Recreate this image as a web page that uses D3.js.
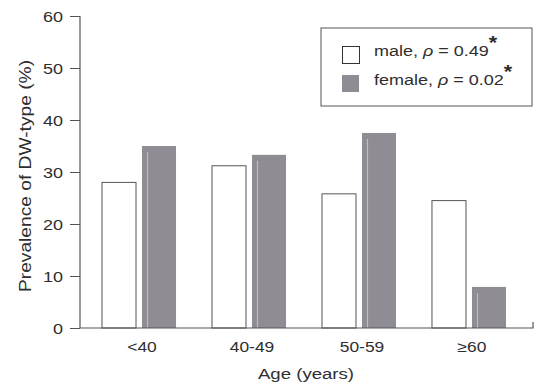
<!DOCTYPE html>
<html>
<head>
<meta charset="utf-8">
<script src="https://cdn.jsdelivr.net/npm/d3@7"></script>
<style>
  body { margin: 0; background: #fff; }
  text { font-family: "Liberation Sans", Arial, sans-serif; fill: #2e2e2e; }
</style>
</head>
<body>
<svg id="chart" width="539" height="383"></svg>
<script>
// Data
const ageGroups = ['<40', '40-49', '50-59', '≥60'];
const sexes = ['male', 'female'];
const maleValues = [28, 31.2, 25.8, 24.5];
const femaleValues = [35, 33.3, 37.5, 7.9];
const yTicks = [0, 10, 20, 30, 40, 50, 60];
const legendLabels = [
  { sex: 'male', text: 'male, ', p: '0.49' },
  { sex: 'female', text: 'female, ', p: '0.02' }
];

const rows = ageGroups.map((g, i) => ({ group: g, male: maleValues[i], female: femaleValues[i] }));

const svg = d3.select('#chart');
const axisColor = '#555';
const femaleFill = '#8f8c93';
const wide = 1.2; // the original type is set wider than Liberation Sans

// text placed at (x, y), stretched along its reading direction
function label (parent, x, y, str, size, anchor, rot) {
  const g = parent.append('g')
    .attr('transform', `translate(${x},${y})${rot ? ` rotate(${rot})` : ''} scale(${wide},1)`);
  return g.append('text')
    .attr('text-anchor', anchor || 'middle')
    .style('font-size', size + 'px')
    .text(str);
}

const y = d3.scaleLinear().domain([0, 60]).range([328, 16]);
const x0 = d3.scaleBand().domain(ageGroups).range([102, 506]).paddingInner(0.327).paddingOuter(0);
const x1 = d3.scaleBand().domain(sexes).range([0, x0.bandwidth()]).paddingInner(0.15);

// Bars
const groups = svg.append('g').selectAll('g').data(rows).enter().append('g')
  .attr('transform', d => `translate(${x0(d.group)},0)`);

groups.selectAll('rect').data(d => sexes.map(s => ({ sex: s, value: d[s] })))
  .enter().append('rect')
  .attr('x', d => x1(d.sex))
  .attr('y', d => y(d.value))
  .attr('width', x1.bandwidth())
  .attr('height', d => y(0) - y(d.value))
  .attr('fill', d => d.sex === 'male' ? '#fff' : femaleFill)
  .attr('stroke', d => d.sex === 'male' ? '#555' : 'none')
  .attr('stroke-width', 1);

// faint highlight stripe on the grey bars
groups.append('line')
  .attr('x1', x1('female') + 5.5).attr('x2', x1('female') + 5.5)
  .attr('y1', d => y(d.female) + 6).attr('y2', y(0))
  .attr('stroke', '#cbc7ce').attr('stroke-width', 1.2).attr('opacity', 0.8);

// Y axis
const yAxis = svg.append('g').attr('transform', 'translate(80,0)')
  .call(d3.axisLeft(y).tickValues(yTicks).tickSize(10).tickFormat(''));
yAxis.select('.domain').remove();
yAxis.selectAll('line').attr('stroke', axisColor);
const yLabels = svg.append('g');
yTicks.forEach(t => label(yLabels, 63, y(t) + 5.5, String(t), 15, 'end'));
svg.append('line').attr('x1', 80).attr('x2', 80).attr('y1', y(60)).attr('y2', y(0))
  .attr('stroke', axisColor).attr('stroke-width', 1.2);

// X axis
svg.append('path')
  .attr('d', `M80,${y(0)}H533V${y(0) - 6}`)
  .attr('fill', 'none').attr('stroke', axisColor).attr('stroke-width', 1.2);
const xLabels = svg.append('g');
ageGroups.forEach(g => label(xLabels, x0(g) + x0.bandwidth() / 2 + 3, 352, g, 14.5));

// Axis titles
label(svg, 306, 379, 'Age (years)', 15.5);
label(svg, 31, 176, 'Prevalence of DW-type (%)', 16, 'middle', -90);

// Legend
const legend = svg.append('g');
legend.append('rect')
  .attr('x', 321).attr('y', 28).attr('width', 211).attr('height', 78)
  .attr('fill', '#fff').attr('stroke', '#555').attr('stroke-width', 1);
const items = legend.selectAll('g.item').data(legendLabels).enter().append('g')
  .attr('class', 'item')
  .attr('transform', (d, i) => `translate(342,${46 + i * 29})`);
items.append('rect')
  .attr('x', d => d.sex === 'male' ? 0.5 : 0).attr('y', d => d.sex === 'male' ? 0.5 : 0)
  .attr('width', 17).attr('height', 17)
  .attr('fill', d => d.sex === 'male' ? '#fff' : femaleFill)
  .attr('stroke', d => d.sex === 'male' ? '#333' : 'none');
items.each(function (d) {
  const t = label(d3.select(this), 32, 10, '', 15, 'start');
  t.append('tspan').text(d.text);
  t.append('tspan').style('font-style', 'italic').text('ρ');
  t.append('tspan').text(' = ' + d.p);
  t.append('tspan').attr('dy', -7).style('font-size', '18px').style('font-weight', 'bold').text('*');
});
</script>
</body>
</html>
